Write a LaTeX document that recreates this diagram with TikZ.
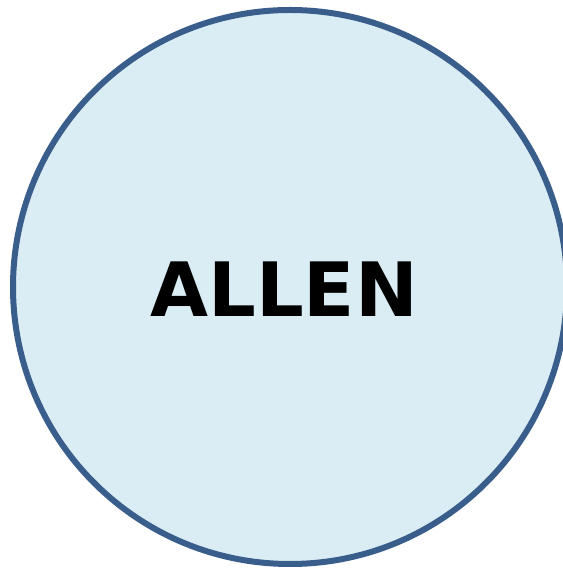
\documentclass[tikz,border=0pt]{standalone}
\usepackage{fontspec}
\newfontfamily\labelfont{DejaVu Sans}
\definecolor{ringcol}{RGB}{58,94,140}
\definecolor{fillcol}{RGB}{219,237,244}
\begin{document}
\begin{tikzpicture}[x=1pt,y=1pt,
  ring/.style={draw=ringcol,fill=fillcol,line width=6pt},
  lbl/.style={font=\labelfont\bfseries\fontsize{75}{75}\selectfont,text=black,inner sep=0pt,anchor=base}]
\useasboundingbox (0,0) rectangle (562,570);
\node[ring,circle,minimum size=554pt,inner sep=0pt] (c) at (290,283) {};
\node[lbl] (t) at (284,253) {ALLEN};
\end{tikzpicture}
\end{document}
